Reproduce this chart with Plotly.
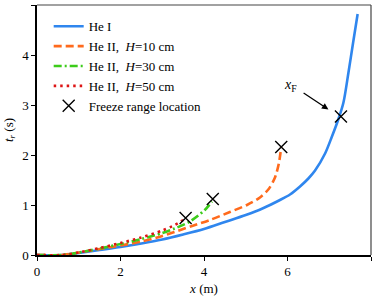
import plotly.graph_objects as go

# He I
he1_x = [0, 0.6, 1.0, 1.5, 2.0, 2.5, 3.0, 3.5, 4.0, 4.5, 5.0, 5.4, 5.82, 6.06, 6.30, 6.50, 6.66, 6.90, 7.06, 7.22, 7.34, 7.46, 7.57, 7.68]
he1_y = [0, 0, 0.04, 0.10, 0.16, 0.23, 0.31, 0.41, 0.52, 0.66, 0.80, 0.93, 1.10, 1.21, 1.37, 1.53, 1.69, 2.03, 2.36, 2.72, 3.05, 3.65, 4.24, 4.82]
# He II, H=10 cm
h10_x = [0, 0.6, 1.0, 1.5, 2.0, 2.5, 3.0, 3.5, 3.75, 4.14, 4.62, 5.03, 5.34, 5.55, 5.70, 5.79, 5.85]
h10_y = [0, 0, 0.05, 0.12, 0.19, 0.27, 0.38, 0.52, 0.59, 0.70, 0.86, 1.00, 1.15, 1.32, 1.55, 1.82, 2.16]
# He II, H=30 cm
h30_x = [0, 0.6, 1.0, 1.5, 2.0, 2.5, 3.0, 3.3, 3.66, 4.02, 4.19]
h30_y = [0, 0, 0.05, 0.13, 0.22, 0.32, 0.44, 0.53, 0.67, 0.90, 1.07]
# He II, H=50 cm
h50_x = [0, 0.6, 1.0, 1.5, 2.0, 2.5, 3.0, 3.3, 3.5]
h50_y = [0, 0, 0.05, 0.14, 0.24, 0.35, 0.49, 0.60, 0.70]
# Freeze range locations
fr_x = [7.28, 5.85, 4.21, 3.56]
fr_y = [2.77, 2.16, 1.12, 0.74]

FONT = '"Liberation Serif", "Times New Roman", Times, "DejaVu Serif", serif'

fig = go.Figure()
fig.add_trace(go.Scatter(x=he1_x, y=he1_y, mode="lines", name="He I",
                         line=dict(color="#2F86EE", width=2.6, shape="spline", smoothing=0.8)))
fig.add_trace(go.Scatter(x=h10_x, y=h10_y, mode="lines", name="He II,  <i>H</i>=10 cm",
                         line=dict(color="#FF6A1C", width=2.6, dash="8px,4px", shape="spline", smoothing=0.8)))
fig.add_trace(go.Scatter(x=h30_x, y=h30_y, mode="lines", name="He II,  <i>H</i>=30 cm",
                         line=dict(color="#3CCC1A", width=2.6, dash="8px,3px,2px,3px", shape="spline", smoothing=0.8)))
fig.add_trace(go.Scatter(x=h50_x, y=h50_y, mode="lines", name="He II,  <i>H</i>=50 cm",
                         line=dict(color="#DD1515", width=2.6, dash="2.5px,4px", shape="spline", smoothing=0.8)))
fig.add_trace(go.Scatter(x=fr_x, y=fr_y, mode="markers", name="Freeze range location",
                         marker=dict(symbol="x-thin", size=12, line=dict(color="black", width=1.4))))

fig.add_annotation(x=6.98, y=2.91, ax=6.35, ay=3.26, xref="x", yref="y", axref="x", ayref="y",
                   text="", showarrow=True, arrowhead=2, arrowsize=1, arrowwidth=1.3, arrowcolor="black")
fig.add_annotation(x=6.06, y=3.39, xref="x", yref="y", text="<i>x</i><sub>F</sub>", showarrow=False,
                   font=dict(family=FONT, size=14, color="black"))

fig.add_shape(type="line", xref="paper", yref="paper", x0=0, x1=1, y0=1, y1=1, line=dict(color="#444", width=1.2))
fig.add_shape(type="line", xref="paper", yref="paper", x0=1, x1=1, y0=0, y1=1, line=dict(color="#444", width=1.2))

fig.update_layout(
    width=374, height=298,
    margin=dict(l=37, r=3, t=5, b=43),
    paper_bgcolor="white", plot_bgcolor="white",
    font=dict(family=FONT, size=13, color="black"),
    showlegend=True,
    legend=dict(x=0.035, y=0.975, xanchor="left", yanchor="top", bgcolor="rgba(0,0,0,0)",
                font=dict(family=FONT, size=13), tracegroupgap=0, itemwidth=30),
    xaxis=dict(range=[0, 8], dtick=2, tick0=0, showgrid=False, zeroline=False,
               showline=True, linecolor="black", linewidth=1.5, ticks="outside", ticklen=4,
               tickcolor="black", tickwidth=1.2,
               title=dict(text="<i>x</i> (m)", font=dict(family=FONT, size=13), standoff=6)),
    yaxis=dict(range=[0, 5], dtick=1, tick0=0, showgrid=False, zeroline=False,
               showline=True, linecolor="black", linewidth=1.5, ticks="outside", ticklen=4,
               tickcolor="black", tickwidth=1.2,
               title=dict(text="<i>t</i><sub><i>r</i></sub> (s)", font=dict(family=FONT, size=13), standoff=6)),
)

fig.write_html("out.html", config={"displayModeBar": False},
               post_script="document.body.style.margin='0';document.body.style.padding='0';document.body.style.overflow='hidden';")
